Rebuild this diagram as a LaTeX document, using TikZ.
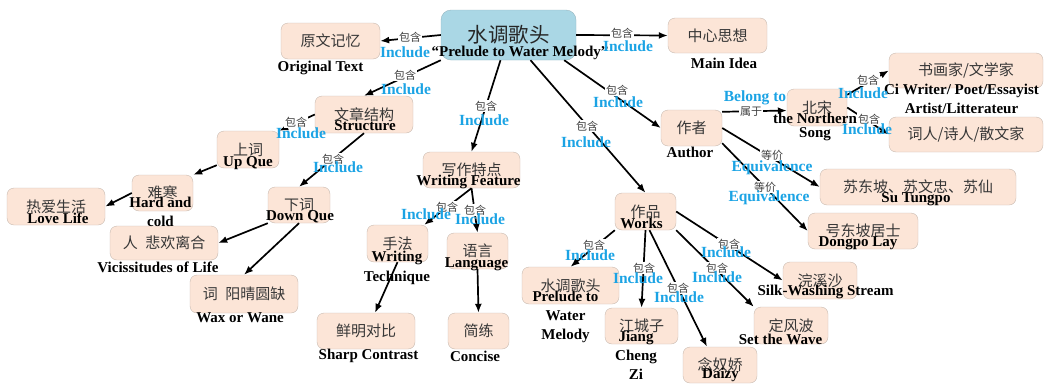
\documentclass[tikz,border=0pt]{standalone}
\usepackage{fontspec}
\setmainfont{Liberation Serif}
\newfontfamily\cjk{Noto Sans CJK SC}
\usetikzlibrary{shapes,arrows.meta}
\definecolor{peach}{RGB}{252,229,215}
\definecolor{peachline}{RGB}{200,186,176}
\definecolor{rootblue}{RGB}{170,215,229}
\definecolor{rootline}{RGB}{150,182,192}
\definecolor{incblue}{RGB}{27,163,228}
\definecolor{cngray}{RGB}{55,55,55}

\begin{document}
\begin{tikzpicture}[x=1pt, y=1pt,
    block_peach/.style ={rectangle, rounded corners=7pt, draw=peachline, fill=peach,
      inner sep=0pt, text=cngray, font=\cjk\fontsize{15}{18}\selectfont},
    block_root/.style ={rectangle, rounded corners=10pt, draw=rootline, fill=rootblue,
      inner sep=0pt, text=black!85, font=\cjk\fontsize{20.5}{24}\selectfont},
    label_en/.style ={inner sep=0pt, align=center, font=\bfseries\fontsize{15}{19}\selectfont},
    label_rel/.style ={inner sep=0.8pt, fill=white, text=black!75,
      font=\cjk\fontsize{11}{13}\selectfont},
    label_inc/.style ={inner sep=0pt, text=incblue, font=\bfseries\fontsize{15.5}{18}\selectfont},
    line/.style ={draw, line width=1.7pt, -{Latex[length=9pt,width=7pt]}, shorten >=0pt}]
    \useasboundingbox (0,0) rectangle (1052,-386);
    % boxes - title and first level
    \node [block_root, minimum width=135pt, minimum height=50pt] (root) at (508.5,-35) {水调歌头};
    \node [block_peach, minimum width=99pt, minimum height=36pt] (orig) at (330.5,-41) {原文记忆};
    \node [block_peach, minimum width=99pt, minimum height=35pt] (idea) at (717.5,-35.5) {中心思想};
    \node [block_peach, minimum width=98pt, minimum height=37pt] (struct) at (364,-114.5) {文章结构};
    \node [block_peach, minimum width=97pt, minimum height=36pt] (feature) at (471.5,-170) {写作特点};
    \node [block_peach, minimum width=61pt, minimum height=37pt] (works) at (645.5,-211.5) {作品};
    \node [block_peach, minimum width=61pt, minimum height=36pt] (author) at (691.5,-128) {作者};
    % boxes - structure
    \node [block_peach, minimum width=62pt, minimum height=37pt] (upque) at (248,-149.5) {上词};
    \node [block_peach, minimum width=61pt, minimum height=36pt] (hard) at (162.5,-193) {难寒};
    \node [block_peach, minimum width=98pt, minimum height=37pt] (love) at (56,-206.5) {热爱生活};
    \node [block_peach, minimum width=62pt, minimum height=36pt] (downque) at (299,-205) {下词};
    \node [block_peach, minimum width=108pt, minimum height=34pt] (vicis) at (164,-243) {人\enspace 悲欢离合};
    \node [block_peach, minimum width=108pt, minimum height=38pt] (wax) at (244,-294) {词\enspace 阳晴圆缺};
    % boxes - writing feature
    \node [block_peach, minimum width=61pt, minimum height=37pt] (technique) at (397.5,-243.5) {手法};
    \node [block_peach, minimum width=61pt, minimum height=36pt] (language) at (477.5,-251) {语言};
    \node [block_peach, minimum width=98pt, minimum height=36pt] (contrast) at (366,-331) {鲜明对比};
    \node [block_peach, minimum width=61pt, minimum height=36pt] (concise) at (478.5,-331) {简练};
    % boxes - works
    \node [block_peach, minimum width=97pt, minimum height=37pt] (prelude) at (570.5,-285.5) {水调歌头};
    \node [block_peach, minimum width=73pt, minimum height=36pt] (jiang) at (641.5,-326) {江城子};
    \node [block_peach, minimum width=74pt, minimum height=36pt] (daizy) at (720,-365) {念奴娇};
    \node [block_peach, minimum width=74pt, minimum height=37pt] (wave) at (791,-325.5) {定风波};
    \node [block_peach, minimum width=74pt, minimum height=37pt] (silk) at (820,-280.5) {浣溪沙};
    % boxes - author
    \node [block_peach, minimum width=60pt, minimum height=37pt] (song) at (817,-107.5) {北宋};
    \node [block_peach, minimum width=154pt, minimum height=35pt] (artist) at (966,-70.5) {书画家/文学家};
    \node [block_peach, minimum width=154pt, minimum height=35pt] (poet) at (966,-134.5) {词人/诗人/散文家};
    \node [block_peach, minimum width=196pt, minimum height=36pt] (tungpo) at (918,-187) {苏东坡、苏文忠、苏仙};
    \node [block_peach, minimum width=110pt, minimum height=36pt] (lay) at (863,-231) {号东坡居士};
    % english names under the boxes
    \node [label_en] (root_en) at (520,-53) {“Prelude to Water Melody”};
    \node [label_en] (orig_en) at (320.5,-68) {Original Text};
    \node [label_en] (idea_en) at (724,-63) {Main Idea};
    \node [label_en] (struct_en) at (365,-126) {Structure};
    \node [label_en] (feature_en) at (468.5,-182) {Writing Feature};
    \node [label_en] (works_en) at (641.5,-223) {Works};
    \node [label_en] (author_en) at (690,-152) {Author};
    \node [label_en] (upque_en) at (248,-163) {Up Que};
    \node [label_en] (hard_en) at (160.5,-211.5) {Hard and\\cold};
    \node [label_en] (love_en) at (58,-218) {Love Life};
    \node [label_en] (downque_en) at (300,-217) {Down Que};
    \node [label_en] (vicis_en) at (158,-267) {Vicissitudes of Life};
    \node [label_en] (wax_en) at (240,-318) {Wax or Wane};
    \node [label_en] (technique_en) at (397,-268) {Writing\\[1pt]Technique};
    \node [label_en] (language_en) at (476.5,-264) {Language};
    \node [label_en] (contrast_en) at (368.5,-356) {Sharp Contrast};
    \node [label_en] (concise_en) at (475,-356) {Concise};
    \node [label_en] (prelude_en) at (565.5,-317) {Prelude to\\Water\\Melody};
    \node [label_en] (jiang_en) at (636,-355.5) {Jiang\\Cheng\\Zi};
    \node [label_en] (daizy_en) at (720.5,-375) {Daizy};
    \node [label_en] (wave_en) at (780.5,-339) {Set the Wave};
    \node [label_en] (silk_en) at (825.5,-292) {Silk-Washing Stream};
    \node [label_en] (song_en) at (815,-126.5) {the Northern\\[-5pt]Song};
    \node [label_en] (artist_en) at (961.5,-98.5) {Ci Writer/ Poet/Essayist\\Artist/Litterateur};
    \node [label_en] (tungpo_en) at (916,-199) {Su Tungpo};
    \node [label_en] (lay_en) at (858,-243) {Dongpo Lay};
    % connecting nodes with paths
    \begin{scope}[every path/.style=line]
      % paths from the title
      \path (root.west) -- (orig.east);
      \path (root.east) -- (idea.west);
      \path (root.south west) -- (struct.north);
      \path ([xshift=-8pt]root.south) -- (feature.north);
      \path ([xshift=22pt]root.south) -- (works.north);
      \path ([xshift=-12pt]root.south east) -- (author.west);
      % paths for the structure
      \path (struct.west) -- (upque.north east);
      \path (struct.south) -- (downque.north);
      \path ([yshift=3pt]upque.south west) -- (hard.north east);
      \path (hard.west) -- (love.east);
      \path (downque.south west) -- (vicis.east);
      \path (downque.south) -- (wax.north);
      % paths for the writing feature
      \path (feature.south) -- ([xshift=-4pt]technique.north east);
      \path (feature.south) -- (language.north);
      \path (technique.south) -- ([xshift=9pt]contrast.north);
      \path (language.south) -- (concise.north);
      % paths for the works
      \path (works.south west) -- (prelude.north);
      \path (works.south) -- (jiang.north);
      \path ([xshift=4pt]works.south) -- ([xshift=-13pt]daizy.north);
      \path (works.south east) -- (wave.north west);
      \path (works.east) -- (silk.west);
      % paths for the author
      \path ([yshift=-2pt]author.north east) -- ([yshift=-3pt]song.west);
      \path ([yshift=-6pt]song.north east) -- (artist.west);
      \path (song.east) -- (poet.west);
      \path (author.east) -- (tungpo.west);
      \path ([yshift=3pt]author.south east) -- (lay.west);
    \end{scope}
    % labels on the paths
    \node [label_rel] (rel1) at (410,-37) {包含};
    \node [label_inc] (inc1) at (405,-52) {Include};
    \node [label_rel] (rel2) at (622,-33) {包含};
    \node [label_inc] (inc2) at (628,-46) {Include};
    \node [label_rel] (rel3) at (405,-75) {包含};
    \node [label_inc] (inc3) at (406,-89) {Include};
    \node [label_rel] (rel4) at (486,-106) {包含};
    \node [label_inc] (inc4) at (484,-120) {Include};
    \node [label_rel] (rel5) at (587,-126) {包含};
    \node [label_inc] (inc5) at (586,-142) {Include};
    \node [label_rel] (rel6) at (617,-90) {包含};
    \node [label_inc] (inc6) at (618,-102) {Include};
    \node [label_rel] (rel7) at (296,-122) {包含};
    \node [label_inc] (inc7) at (301,-133) {Include};
    \node [label_rel] (rel8) at (333,-159) {包含};
    \node [label_inc] (inc8) at (338,-167) {Include};
    \node [label_rel] (rel9) at (447,-207) {包含};
    \node [label_inc] (inc9) at (426,-214) {Include};
    \node [label_rel] (rel10) at (475,-210) {包含};
    \node [label_inc] (inc10) at (480,-219) {Include};
    \node [label_rel] (rel11) at (594,-245) {包含};
    \node [label_inc] (inc11) at (590,-255) {Include};
    \node [label_rel] (rel12) at (644,-268) {包含};
    \node [label_inc] (inc12) at (638,-278) {Include};
    \node [label_rel] (rel13) at (678,-288) {包含};
    \node [label_inc] (inc13) at (679,-297) {Include};
    \node [label_rel] (rel14) at (717,-268) {包含};
    \node [label_inc] (inc14) at (717,-277) {Include};
    \node [label_rel] (rel15) at (729,-244) {包含};
    \node [label_inc] (inc15) at (726,-252) {Include};
    \node [label_rel] (rel16) at (751,-112) {属于};
    \node [label_inc] (inc16) at (755,-98) {Belong to};
    \node [label_rel] (rel17) at (868,-80) {包含};
    \node [label_inc] (inc17) at (863,-93) {Include};
    \node [label_rel] (rel18) at (869,-119) {包含};
    \node [label_inc] (inc18) at (867,-129) {Include};
    \node [label_rel] (rel19) at (772,-155) {等价};
    \node [label_inc] (inc19) at (772,-168) {Equivalence};
    \node [label_rel] (rel20) at (765,-187) {等价};
    \node [label_inc] (inc20) at (769,-198) {Equivalence};
\end{tikzpicture}
\end{document}
